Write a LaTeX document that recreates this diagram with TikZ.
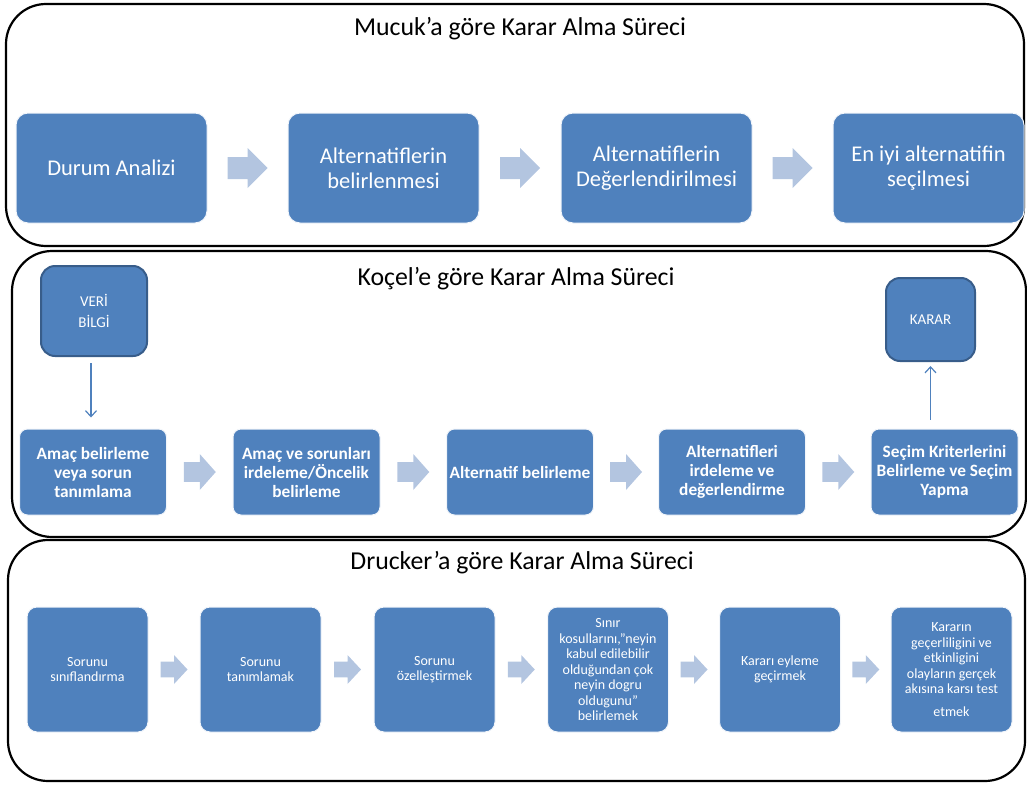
\documentclass[tikz,border=0pt]{standalone}
\usepackage{fontspec}
\setmainfont{Carlito}
\usetikzlibrary{calc,arrows.meta}

\definecolor{boxblue}{HTML}{4F81BD}
\definecolor{boxedge}{HTML}{385D8A}
\definecolor{arrowblue}{HTML}{B3C5E0}

% block arrow between two nodes: #1 from, #2 to, #3 length, #4 height
\newcommand\blockarr[4]{%
  \path ($(#1.east)!0.5!(#2.west)$) coordinate (ba);
  \fill[arrowblue]
    ($(ba)+(-#3/2,-0.275*#4)$) -- ($(ba)+(0,-0.275*#4)$) --
    ($(ba)+(0,-#4/2)$) -- ($(ba)+(#3/2,0)$) -- ($(ba)+(0,#4/2)$) --
    ($(ba)+(0,0.275*#4)$) -- ($(ba)+(-#3/2,0.275*#4)$) -- cycle;}

\tikzset{
  frame/.style={draw=black, line width=2.2pt, rounded corners=40pt},
  title/.style={font=\fontsize{25.8}{30}\selectfont, text=black, inner sep=0pt},
  stepbase/.style={fill=boxblue, draw=white!92!boxblue, line width=1pt,
    text=white, align=center, inner sep=0pt},
  mucukbox/.style={stepbase, rounded corners=12pt, minimum width=191pt,
    minimum height=110pt, font=\fontsize{22.5}{25}\selectfont},
  kocelbox/.style={stepbase, rounded corners=8pt, minimum width=147pt,
    minimum height=86pt, font=\fontsize{17.3}{19}\selectfont\bfseries},
  druckbox/.style={stepbase, rounded corners=10pt, minimum width=121pt,
    minimum height=125pt, font=\fontsize{14}{15.5}\selectfont},
  sidebox/.style={fill=boxblue, draw=boxedge, line width=2pt, text=white,
    align=center, inner sep=0pt, rounded corners=14pt,
    font=\fontsize{15}{21}\selectfont},
  thinarrow/.style={draw=boxblue, line width=1.2pt,
    -{Straight Barb[length=6pt,width=11pt]}},
}

\begin{document}
\begin{tikzpicture}[x=1pt,y=-1pt]
\useasboundingbox (0,0) rectangle (1027,784);

% outer frames
\draw[frame] (6,4) rectangle (1024,246);
\draw[frame] (12,251) rectangle (1026,537);
\draw[frame] (8,540) rectangle (1025,781);

% Mucuk
\node[title] (tm) at (520,28.5) {Mucuk’a göre Karar Alma Süreci};
\node[mucukbox] (m1) at (111.5,168) {Durum Analizi};
\node[mucukbox] (m2) at (383.5,168) {Alternatiflerin\\belirlenmesi};
\node[mucukbox] (m3) at (656.5,168) {Alternatiflerin\\Değerlendirilmesi};
\node[mucukbox] (m4) at (928.5,168) {En iyi alternatifin\\seçilmesi};
\blockarr{m1}{m2}{40}{40}
\blockarr{m2}{m3}{40}{40}
\blockarr{m3}{m4}{40}{40}

% Koçel
\node[title] (tk) at (516,279) {Koçel’e göre Karar Alma Süreci};
\node[sidebox, minimum width=106pt, minimum height=90pt] (veri) at (94,311) {VERİ\\BİLGİ};
\node[sidebox, minimum width=89pt, minimum height=83pt] (karar) at (930.5,319.5) {KARAR};
\node[kocelbox] (k1) at (93,472) {Amaç belirleme\\veya sorun\\tanımlama};
\node[kocelbox] (k2) at (306.5,472) {Amaç ve sorunları\\irdeleme/Öncelik\\belirleme};
\node[kocelbox] (k3) at (520,472) {Alternatif belirleme};
\node[kocelbox] (k4) at (732,472) {Alternatifleri\\irdeleme ve\\değerlendirme};
\node[kocelbox] (k5) at (944.5,472) {Seçim Kriterlerini\\Belirleme ve Seçim\\Yapma};
\blockarr{k1}{k2}{32}{36}
\blockarr{k2}{k3}{32}{36}
\blockarr{k3}{k4}{32}{36}
\blockarr{k4}{k5}{32}{36}
\draw[thinarrow, shorten <=6pt, shorten >=11pt] ([xshift=-3pt]veri.south) -- ([xshift=-3pt]veri.south |- k1.north);
\draw[thinarrow, shorten <=9pt, shorten >=4pt] (k5.north -| karar.south) -- (karar.south);

% Drucker
\node[title] (td) at (522,563) {Drucker’a göre Karar Alma Süreci};
\node[druckbox] (d1) at (87.5,669.5) {Sorunu\\sınıflandırma};
\node[druckbox] (d2) at (260.5,669.5) {Sorunu\\tanımlamak};
\node[druckbox] (d3) at (434.5,669.5) {Sorunu\\özelleştirmek};
\node[druckbox] (d4) at (608,669.5) {Sınır\\kosullarını,”neyin\\kabul edilebilir\\olduğundan çok\\neyin dogru\\oldugunu”\\belirlemek};
\node[druckbox] (d5) at (780,669.5) {Kararı eyleme\\geçirmek};
\node[druckbox] (d6) at (951.5,669.5) {Kararın\\geçerliligini ve\\etkinligini\\olayların gerçek\\akısına karsı test\\[7pt]etmek};
\blockarr{d1}{d2}{27}{29}
\blockarr{d2}{d3}{27}{29}
\blockarr{d3}{d4}{27}{29}
\blockarr{d4}{d5}{27}{29}
\blockarr{d5}{d6}{27}{29}
\end{tikzpicture}
\end{document}
